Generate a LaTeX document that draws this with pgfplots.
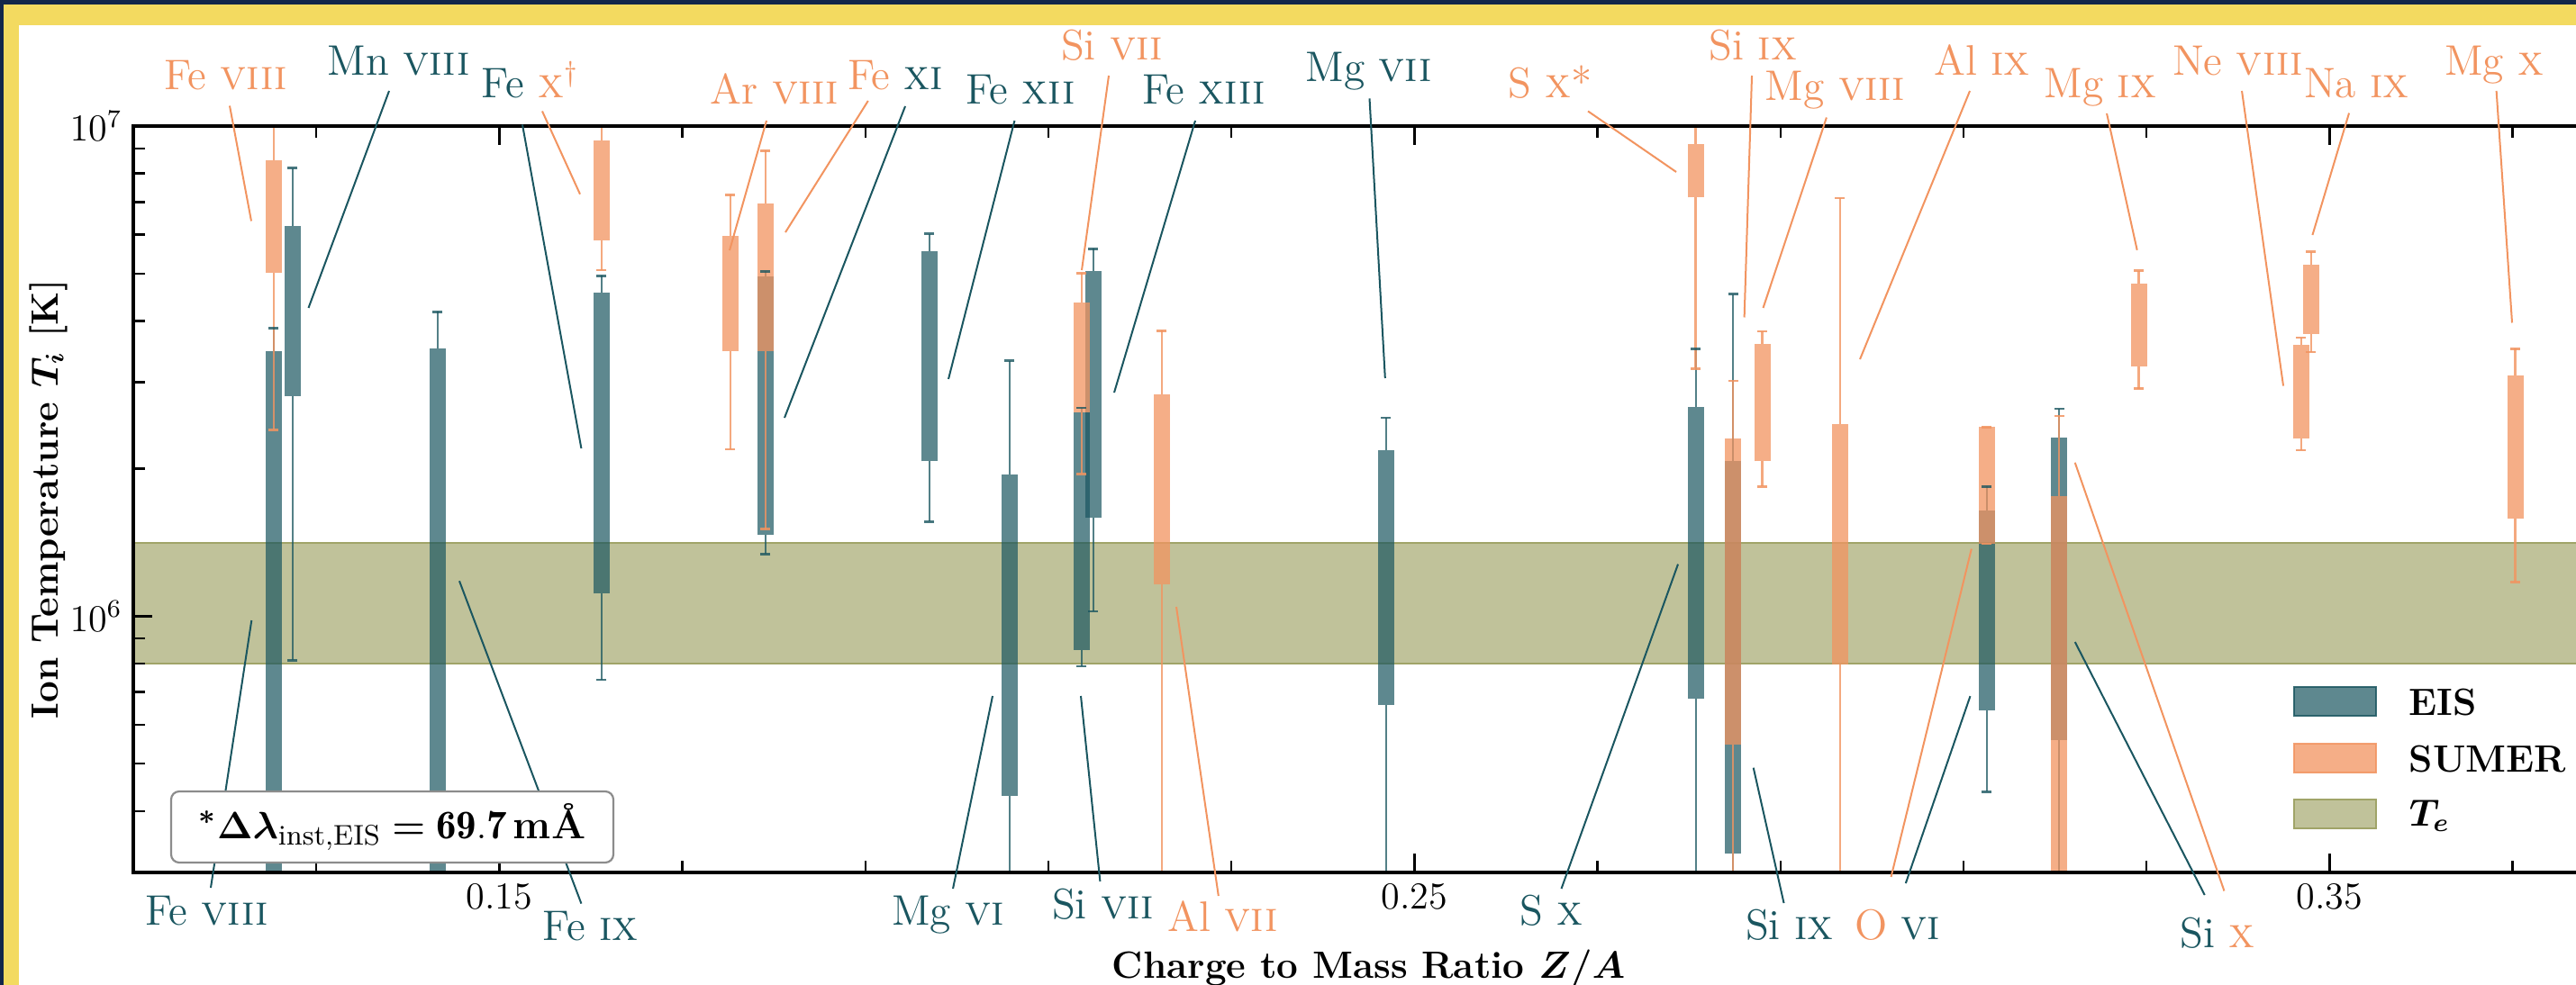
\documentclass[border=0pt]{standalone}
\usepackage{fontspec}
\usepackage{amsmath,bm}
\usepackage{pgfplots}
\pgfplotsset{compat=1.18}
\definecolor{eis}{HTML}{1A5660}
\definecolor{sumer}{HTML}{F29460}
\definecolor{tefill}{HTML}{C0C29A}
\definecolor{teedge}{HTML}{A0A468}
\definecolor{navy}{HTML}{12264A}
\definecolor{gold}{HTML}{F3DA60}
\tikzset{px/.style={shift={(0,109.4mm)},x={(0.1mm,0)},y={(0,-0.1mm)}},
  lab/.style={font=\fontsize{13.5}{16}\selectfont, anchor=base, inner sep=0pt},
  leis/.style={draw=eis, line width=0.2mm},
  lsum/.style={draw=sumer, line width=0.2mm}}
% x, box low, box high, whisker low, whisker high
\newcommand{\ebx}[5]{%
  \addplot[eis, opacity=0.75, line width=0.2mm, forget plot] coordinates {(#1,#4) (#1,#2)};
  \addplot[eis, opacity=0.75, line width=0.2mm, forget plot] coordinates {(#1,#3) (#1,#5)};
  \addplot[eis, opacity=0.7, line width=1.8mm, forget plot] coordinates {(#1,#2) (#1,#3)};}
\newcommand{\sbx}[5]{%
  \addplot[sumer, opacity=0.8, line width=0.22mm, forget plot] coordinates {(#1,#4) (#1,#2)};
  \addplot[sumer, opacity=0.8, line width=0.22mm, forget plot] coordinates {(#1,#3) (#1,#5)};
  \addplot[sumer, opacity=0.75, line width=1.8mm, forget plot] coordinates {(#1,#2) (#1,#3)};}
\begin{document}
\begin{tikzpicture}
\useasboundingbox (0,0) rectangle (286mm,109.4mm);
\begin{scope}[px]
\fill[navy] (0,0) rectangle (2860,1094);
\fill[gold] (4,5) rectangle (2860,1094);
\fill[white] (21,28) rectangle (2860,1094);
\end{scope}
\begin{scope}
\clip (0,0) rectangle (286mm,109.4mm);
\begin{axis}[
  at={(14.8mm,12.5mm)}, anchor=south west,
  scale only axis, width=274.32mm, height=82.9mm,
  xmin=0.11, xmax=0.38, ymin=3e5, ymax=1e7, ymode=log,
  axis on top,
  xtick={0.15,0.25,0.35}, xticklabels={0.15,0.25,0.35},
  minor xtick={0.13,0.17,0.19,0.21,0.23,0.27,0.29,0.31,0.33,0.37},
  ytick={1e6,1e7}, yticklabels={$10^{6}$,$10^{7}$},
  minor ytick={4e5,5e5,6e5,7e5,8e5,9e5,2e6,3e6,4e6,5e6,6e6,7e6,8e6,9e6},
  tick align=inside, major tick length=2.1mm, minor tick length=1.3mm,
  every tick/.style={black, line width=0.25mm},
  axis line style={line width=0.35mm},
  ticklabel style={font=\fontsize{12}{14}\selectfont},
  label style={font=\fontsize{12}{14}\selectfont},
  xlabel={\textbf{Charge to Mass Ratio $\bm{Z/A}$}},
  ylabel={\textbf{Ion Temperature $\bm{T_i}$ [K]}},
  xlabel style={at={(axis description cs:0.5,-0.1423)}, anchor=base},
  ylabel style={at={(axis description cs:-0.0306,0.5)}, anchor=base},
]
% electron temperature band
\addplot[fill=tefill, draw=teedge, line width=0.25mm, forget plot]
  coordinates {(0.10,8.0e5) (0.40,8.0e5) (0.40,1.41e6) (0.10,1.41e6)} -- cycle;
% EIS
\ebx{0.12535}{2.0e5}{3.47e6}{1.5e5}{3.87e6}
\ebx{0.12742}{2.81e6}{6.24e6}{8.13e5}{8.21e6}
\ebx{0.14325}{2.0e5}{3.51e6}{1.5e5}{4.18e6}
\ebx{0.16116}{1.111e6}{4.58e6}{7.42e5}{4.95e6}
\ebx{0.17907}{1.464e6}{4.94e6}{1.338e6}{5.05e6}
\ebx{0.19697}{2.07e6}{5.55e6}{1.559e6}{6.03e6}
\ebx{0.20572}{4.30e5}{1.948e6}{1.5e5}{3.32e6}
\ebx{0.21363}{8.53e5}{2.60e6}{7.90e5}{2.66e6}
\ebx{0.21488}{1.59e6}{5.07e6}{1.023e6}{5.62e6}
\ebx{0.24686}{6.59e5}{2.18e6}{1.5e5}{2.54e6}
\ebx{0.28072}{6.80e5}{2.67e6}{1.5e5}{3.51e6}
\ebx{0.28484}{3.28e5}{2.07e6}{1.5e5}{4.54e6}
\ebx{0.31252}{6.42e5}{1.643e6}{4.38e5}{1.84e6}
\ebx{0.32045}{5.58e5}{2.31e6}{1.5e5}{2.65e6}
\addplot[eis, opacity=0.8, only marks, mark=-, mark size=0.55mm, mark options={line width=0.27mm}, forget plot]
  coordinates {(0.12535,3.87e6) (0.12742,8.13e5) (0.12742,8.21e6) (0.14325,4.18e6)
  (0.16116,7.42e5) (0.16116,4.95e6) (0.17907,1.338e6) (0.17907,5.05e6)
  (0.19697,1.559e6) (0.19697,6.03e6) (0.20572,3.32e6) (0.21363,7.90e5) (0.21363,2.66e6)
  (0.21488,1.023e6) (0.21488,5.62e6) (0.24686,2.54e6) (0.28072,3.51e6) (0.28484,4.54e6)
  (0.31252,4.38e5) (0.31252,1.84e6) (0.32045,2.65e6)};
% SUMER
\sbx{0.12535}{5.01e6}{8.51e6}{2.40e6}{1.2e7}
\sbx{0.16116}{5.84e6}{9.34e6}{5.08e6}{1.2e7}
\sbx{0.17523}{3.47e6}{5.96e6}{2.19e6}{7.24e6}
\sbx{0.17907}{3.47e6}{6.95e6}{1.504e6}{8.91e6}
\sbx{0.21363}{2.60e6}{4.37e6}{1.95e6}{5.01e6}
\sbx{0.22239}{1.162e6}{2.84e6}{1.5e5}{3.82e6}
\sbx{0.28072}{7.15e6}{9.18e6}{3.20e6}{1.2e7}
\sbx{0.28484}{5.47e5}{2.30e6}{1.5e5}{3.02e6}
\sbx{0.28801}{2.07e6}{3.59e6}{1.84e6}{3.81e6}
\sbx{0.29651}{7.96e5}{2.47e6}{1.5e5}{7.13e6}
\sbx{0.31252}{1.405e6}{2.43e6}{1.405e6}{2.43e6}
\sbx{0.32045}{2.0e5}{1.759e6}{1.5e5}{2.56e6}
\sbx{0.32915}{3.23e6}{4.76e6}{2.91e6}{5.07e6}
\sbx{0.34688}{2.30e6}{3.58e6}{2.18e6}{3.70e6}
\sbx{0.34798}{3.77e6}{5.22e6}{3.46e6}{5.54e6}
\sbx{0.37029}{1.582e6}{3.10e6}{1.174e6}{3.51e6}
\addplot[sumer, opacity=0.85, only marks, mark=-, mark size=0.55mm, mark options={line width=0.27mm}, forget plot]
  coordinates {(0.12535,2.40e6) (0.16116,5.08e6) (0.17523,2.19e6) (0.17523,7.24e6)
  (0.17907,1.504e6) (0.17907,8.91e6) (0.21363,1.95e6) (0.21363,5.01e6) (0.22239,3.82e6)
  (0.28072,3.20e6) (0.28484,3.02e6) (0.28801,1.84e6) (0.28801,3.81e6) (0.29651,7.13e6)
  (0.31252,1.405e6) (0.31252,2.43e6) (0.32045,2.56e6) (0.32915,2.91e6) (0.32915,5.07e6)
  (0.34688,2.18e6) (0.34688,3.70e6) (0.34798,3.46e6) (0.34798,5.54e6)
  (0.37029,1.174e6) (0.37029,3.51e6)};
\end{axis}
\end{scope}
\begin{scope}[px]
% leader lines (top)
\draw[lsum] (255,117.5) -- (279,245.5);
\draw[leis] (432,101) -- (342.5,342);
\draw[leis] (580,138.5) -- (645.4,498);
\draw[lsum] (602,123.5) -- (644,215.7);
\draw[lsum] (851,134) -- (810,278);
\draw[lsum] (963.8,112) -- (872,258);
\draw[leis] (1005,118) -- (871,464);
\draw[leis] (1126.4,134) -- (1053,421);
\draw[lsum] (1231,84) -- (1201,300);
\draw[leis] (1327,134) -- (1237,436);
\draw[leis] (1520.5,109.4) -- (1537.8,420);
\draw[lsum] (1763,123.5) -- (1861,191);
\draw[lsum] (1945,84) -- (1936.6,352.5);
\draw[lsum] (2027.9,130.5) -- (1957.5,342);
\draw[lsum] (2187,101) -- (2065,399);
\draw[lsum] (2339,126) -- (2372.7,277.8);
\draw[lsum] (2489,101) -- (2535,428.6);
\draw[lsum] (2608,125.6) -- (2567.4,261);
\draw[lsum] (2771.6,101) -- (2789,358.5);
% leader lines (bottom)
\draw[leis] (234,986) -- (279.3,689);
\draw[leis] (645.4,1003.6) -- (510,645.3);
\draw[leis] (1058,987) -- (1102,773);
\draw[leis] (1221.4,979) -- (1200,773);
\draw[lsum] (1352.8,995) -- (1306,674);
\draw[leis] (1733.5,987) -- (1863,626.6);
\draw[leis] (1980.5,1003) -- (1946.7,852.7);
\draw[lsum] (2099.5,974) -- (2188.8,609.6);
\draw[leis] (2115.8,981) -- (2187.4,773.2);
\draw[leis] (2447.7,994) -- (2303.7,713);
\draw[lsum] (2469.4,989.5) -- (2303.7,513.8);
% labels (top)
\node[lab, text=sumer] at (250.5,100) {Fe \textsc{viii}};
\node[lab, text=eis] at (442.5,84) {Mn \textsc{viii}};
\node[lab] at (588.5,109) {\textcolor{eis}{Fe} \textcolor{sumer}{\textsc{x}$^\dagger$}};
\node[lab, text=sumer] at (860,116) {Ar \textsc{viii}};
\node[lab] at (994,100) {\textcolor{sumer}{Fe} \textcolor{eis}{\textsc{xi}}};
\node[lab, text=eis] at (1133,116) {Fe \textsc{xii}};
\node[lab, text=sumer] at (1234.5,67) {Si \textsc{vii}};
\node[lab, text=eis] at (1336.5,116) {Fe \textsc{xiii}};
\node[lab, text=eis] at (1519.6,91) {Mg \textsc{vii}};
\node[lab, text=sumer] at (1721,109) {S \textsc{x}*};
\node[lab, text=sumer] at (1946.5,67) {Si \textsc{ix}};
\node[lab, text=sumer] at (2037.5,112) {Mg \textsc{viii}};
\node[lab, text=sumer] at (2200.5,84) {Al \textsc{ix}};
\node[lab, text=sumer] at (2331.8,108.7) {Mg \textsc{ix}};
\node[lab, text=sumer] at (2484.5,84) {Ne \textsc{viii}};
\node[lab, text=sumer] at (2616.5,108.7) {Na \textsc{ix}};
\node[lab, text=sumer] at (2769.5,84) {Mg \textsc{x}};
% labels (bottom)
\node[lab, text=eis] at (229.5,1027.6) {Fe \textsc{viii}};
\node[lab, text=eis] at (655.5,1044.6) {Fe \textsc{ix}};
\node[lab, text=eis] at (1052.5,1027) {Mg \textsc{vi}};
\node[lab, text=eis] at (1224.5,1020) {Si \textsc{vii}};
\node[lab, text=sumer] at (1357.5,1034.7) {Al \textsc{vii}};
\node[lab, text=eis] at (1722.8,1027.6) {S \textsc{x}};
\node[lab, text=eis] at (1986.8,1043.5) {Si \textsc{ix}};
\node[lab] at (2106.5,1043.5) {\textcolor{sumer}{O} \textcolor{eis}{\textsc{vi}}};
\node[lab] at (2462,1052.4) {\textcolor{eis}{Si} \textcolor{sumer}{\textsc{x}}};
% instrumental width box
\node[draw=black!45, line width=0.22mm, rounded corners=0.9mm, fill=white,
  minimum width=49.1mm, minimum height=7.9mm, inner sep=0pt] at (435.5,918.5)
  {\fontsize{12.8}{15}\selectfont\textbf{$^{\bm{*}}\bm{\Delta\lambda}_{\text{\normalfont inst,EIS}} \bm{=} \mathbf{69.7}\,$m\AA}};
% legend
\path[fill=eis, fill opacity=0.7, draw=eis, draw opacity=0.85, line width=0.25mm] (2547,763) rectangle (2638,795);
\path[fill=sumer, fill opacity=0.75, draw=sumer, draw opacity=0.85, line width=0.25mm] (2547,826) rectangle (2638,858);
\path[fill=tefill, draw=teedge, line width=0.25mm] (2547,888) rectangle (2638,920);
\node[anchor=base west, inner sep=0pt, font=\fontsize{12}{14}\selectfont] at (2674,794) {\textbf{EIS}};
\node[anchor=base west, inner sep=0pt, font=\fontsize{12}{14}\selectfont] at (2674,857) {\textbf{SUMER}};
\node[anchor=base west, inner sep=0pt, font=\fontsize{12}{14}\selectfont] at (2674,917) {$\bm{T_e}$};
\end{scope}
\end{tikzpicture}
\end{document}
